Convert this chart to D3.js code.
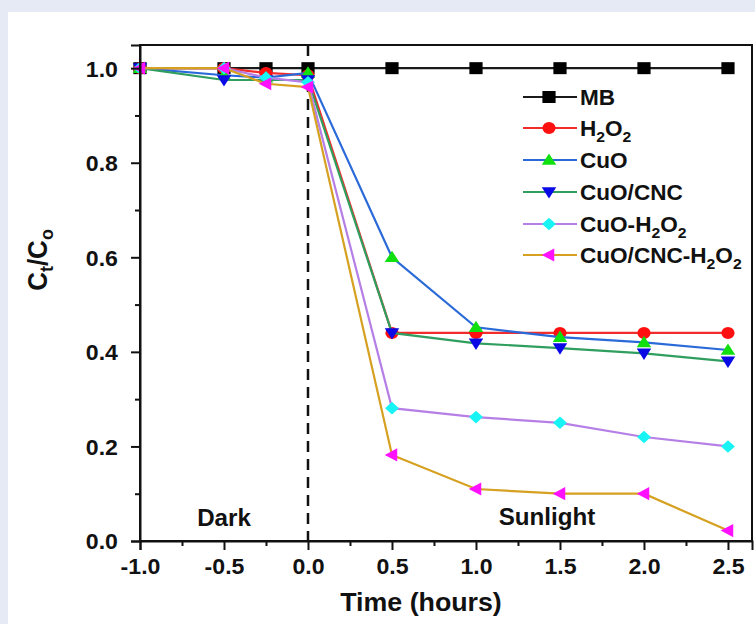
<!DOCTYPE html>
<html><head><meta charset="utf-8">
<script src="https://cdn.jsdelivr.net/npm/d3@7"></script>
<style>
html,body{margin:0;padding:0;background:#e6eaf5;}
svg{display:block;}
text{font-family:"Liberation Sans",Arial,sans-serif;font-weight:bold;fill:#111;}
</style></head>
<body>
<svg id="chart" width="755" height="624"></svg>
<script>
// ---- data ----
const times = [-1, -0.5, -0.25, 0, 0.5, 1, 1.5, 2, 2.5];
const seriesNames = ["MB", "H2O2", "CuO", "CuO/CNC", "CuO-H2O2", "CuO/CNC-H2O2"];
const mb          = [1.0, 1.0, 1.0, 1.0, 1.0, 1.0, 1.0, 1.0, 1.0];
const h2o2        = [1.0, 1.0, 0.99, 0.985, 0.44, 0.44, 0.44, 0.44, 0.44];
const cuo         = [1.0, 0.985, 0.98, 0.99, 0.60, 0.452, 0.431, 0.42, 0.404];
const cuoCnc      = [1.0, 0.975, 0.975, 0.975, 0.44, 0.418, 0.408, 0.397, 0.38];
const cuoH2o2     = [1.0, 1.0, 0.98, 0.97, 0.281, 0.262, 0.25, 0.22, 0.20];
const cuoCncH2o2  = [1.0, 1.0, 0.967, 0.96, 0.182, 0.11, 0.10, 0.10, 0.022];
const xTicks = [-1.0, -0.5, 0.0, 0.5, 1.0, 1.5, 2.0, 2.5];
const yTicks = [0.0, 0.2, 0.4, 0.6, 0.8, 1.0];
const xMinor = [-0.75, -0.25, 0.25, 0.75, 1.25, 1.75, 2.25];
const yMinor = [0.1, 0.3, 0.5, 0.7, 0.9];

// ---- styles ----
const lineColors   = ["#1a1a1a", "#f22b2b", "#2a6ad8", "#2f9e5e", "#b57fe6", "#d6a021"];
const markerColors = ["#000000", "#ff1010", "#10e010", "#0a0ae6", "#18f4f4", "#ff10ff"];
const markerTypes  = ["square", "circle", "triUp", "triDown", "diamond", "triLeft"];
const allValues = [mb, h2o2, cuo, cuoCnc, cuoH2o2, cuoCncH2o2];
const SX = 1.05; // horizontal text stretch
const MS = 12;   // marker size

const svg = d3.select("#chart");
svg.append("rect").attr("x", 8).attr("y", 12).attr("width", 747).attr("height", 612).attr("fill", "#ffffff");

const L = 140, R = 752, T = 45, B = 541;
const x = d3.scaleLinear().domain([-1, 2.643]).range([L, R]);
const y = d3.scaleLinear().domain([0, 1.049]).range([B, T]);

function markerPath(type, s) {
  const h = s / 2;
  switch (type) {
    case "square": return `M${-h},${-h}H${h}V${h}H${-h}Z`;
    case "circle": return d3.symbol(d3.symbolCircle, Math.PI * h * h)();
    case "triUp": return `M0,${-h * 1.1}L${h * 1.1},${h * 0.8}L${-h * 1.1},${h * 0.8}Z`;
    case "triDown": return `M0,${h * 1.1}L${h * 1.1},${-h * 0.8}L${-h * 1.1},${-h * 0.8}Z`;
    case "diamond": return `M0,${-h * 1.05}L${h * 1.05},0L0,${h * 1.05}L${-h * 1.05},0Z`;
    case "triLeft": return `M${-h * 1.1},0L${h * 0.8},${-h * 1.1}L${h * 0.8},${h * 1.1}Z`;
  }
}

// dashed line at t=0
svg.append("line").attr("x1", x(0)).attr("x2", x(0)).attr("y1", T).attr("y2", B)
  .attr("stroke", "#111").attr("stroke-width", 2.5).attr("stroke-dasharray", "11,7");

// series
const line = d3.line().x((d, i) => x(times[i])).y(d => y(d));
allValues.forEach((vals, k) => {
  const g = svg.append("g");
  g.append("path").attr("d", line(vals)).attr("fill", "none")
    .attr("stroke", lineColors[k]).attr("stroke-width", 2.2);
  g.selectAll("path.m").data(vals).enter().append("path").attr("class", "m")
    .attr("d", markerPath(markerTypes[k], MS))
    .attr("transform", (d, i) => `translate(${x(times[i])},${y(d)}) scale(1.1,1)`)
    .attr("fill", markerColors[k]);
});

// frame
svg.append("rect").attr("x", L).attr("y", T).attr("width", R - L).attr("height", B - T)
  .attr("fill", "none").attr("stroke", "#111").attr("stroke-width", 2);

// axes
const fmt = v => d3.format(".1f")(v).replace("\u2212", "-");
const xAxis = svg.append("g").attr("transform", `translate(0,${B})`)
  .call(d3.axisBottom(x).tickValues(xTicks).tickFormat(fmt).tickSize(9).tickPadding(8));
svg.append("g").attr("transform", `translate(0,${B})`)
  .call(d3.axisBottom(x).tickValues(xMinor).tickFormat("").tickSize(5)).select(".domain").remove();
const yAxis = svg.append("g").attr("transform", `translate(${L},0)`)
  .call(d3.axisLeft(y).tickValues(yTicks).tickFormat(fmt).tickSize(9).tickPadding(9));
svg.append("g").attr("transform", `translate(${L},0)`)
  .call(d3.axisLeft(y).tickValues(yMinor).tickFormat("").tickSize(5)).select(".domain").remove();
svg.selectAll(".domain").attr("stroke", "#111").attr("stroke-width", 2);
svg.selectAll(".tick line").attr("stroke", "#111").attr("stroke-width", 2);
xAxis.selectAll("text").attr("font-size", 22).attr("font-family", "Liberation Sans, Arial, sans-serif")
  .attr("font-weight", "bold").attr("fill", "#111").attr("transform", `scale(${SX},1)`);
yAxis.selectAll("text").attr("font-size", 22).attr("font-family", "Liberation Sans, Arial, sans-serif")
  .attr("font-weight", "bold").attr("fill", "#111").attr("x", -21).attr("dy", "0.36em")
  .attr("transform", `scale(${SX},1)`);

// axis titles
svg.append("text").attr("transform", `translate(421,611) scale(${SX},1)`)
  .attr("text-anchor", "middle").attr("font-size", 25.5).text("Time (hours)");
const yl = svg.append("text").attr("transform", `translate(47,260) scale(${SX},1) rotate(-90)`)
  .attr("text-anchor", "middle").attr("font-size", 26);
yl.append("tspan").text("C");
yl.append("tspan").attr("font-size", 18).attr("dy", 6).text("t");
yl.append("tspan").attr("dy", -6).text("/C");
yl.append("tspan").attr("font-size", 18).attr("dy", 6).text("o");

// region labels
svg.append("text").attr("transform", `translate(224,526) scale(${SX},1)`)
  .attr("text-anchor", "middle").attr("font-size", 23).text("Dark");
svg.append("text").attr("transform", `translate(547,525) scale(${SX},1)`)
  .attr("text-anchor", "middle").attr("font-size", 23).text("Sunlight");

// legend
const legY = [97, 128, 160, 192, 224, 255];
seriesNames.forEach((name, k) => {
  const g = svg.append("g").attr("transform", `translate(0,${legY[k]})`);
  g.append("line").attr("x1", 523).attr("x2", 577).attr("y1", 0).attr("y2", 0)
    .attr("stroke", lineColors[k]).attr("stroke-width", 2.2);
  g.append("path").attr("d", markerPath(markerTypes[k], MS))
    .attr("transform", `translate(549,0) scale(1.1,1)`).attr("fill", markerColors[k]);
  const t = g.append("text").attr("transform", `translate(580,8) scale(${SX},1)`).attr("font-size", 21.5);
  const parts = name.split(/(2)/).filter(p => p.length);
  let shift = 0;
  parts.forEach(p => {
    if (p === "2") {
      t.append("tspan").attr("font-size", 15).attr("dy", 6 - shift).text("2");
      shift = 6;
    } else {
      t.append("tspan").attr("dy", -shift).text(p);
      shift = 0;
    }
  });
});
</script>
</body></html>
